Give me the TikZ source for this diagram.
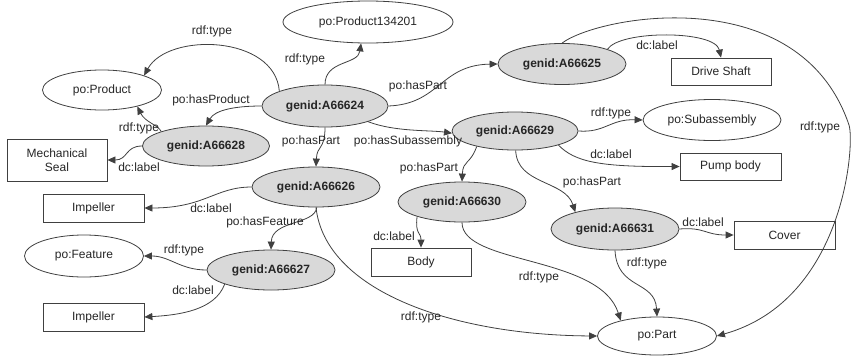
\documentclass[tikz,border=0pt]{standalone}
\usepackage{fontspec}
\setmainfont{Liberation Sans}
\usetikzlibrary{shapes.geometric,arrows.meta}
\begin{document}
\begin{tikzpicture}[x=1pt,y=-1pt,
  font=\fontsize{12}{14}\selectfont,
  res/.style={ellipse,draw=black!75,line width=0.8pt,fill=black!15,inner sep=0pt,text=black!85,font=\fontsize{12}{14}\selectfont\bfseries},
  cls/.style={ellipse,draw=black!75,line width=0.8pt,fill=white,inner sep=0pt,text=black!85},
  lit/.style={rectangle,draw=black!75,line width=0.8pt,fill=white,inner sep=0pt,text=black!85,align=center},
  conn/.style={draw=black!75,line width=0.8pt,-{Triangle[length=8pt,width=7pt]}},
  lab/.style={inner sep=0pt,text=black!85}]
\useasboundingbox (0,0) rectangle (851,356);

% ellipses
\node[cls,minimum width=170pt,minimum height=42pt] (p134201) at (368,22) {po:Product134201};
\node[cls,minimum width=119pt,minimum height=40pt] (product) at (102,90) {po:Product};
\node[res,minimum width=126pt,minimum height=42pt] (a624) at (325,106) {genid:A66624};
\node[res,minimum width=127pt,minimum height=40pt] (a628) at (206,146) {genid:A66628};
\node[res,minimum width=128pt,minimum height=41pt] (a625) at (562,64) {genid:A66625};
\node[res,minimum width=126pt,minimum height=38pt] (a629) at (515,131) {genid:A66629};
\node[cls,minimum width=138pt,minimum height=41pt] (subasm) at (712,120) {po:Subassembly};
\node[res,minimum width=128pt,minimum height=40pt] (a626) at (316,187) {genid:A66626};
\node[res,minimum width=128pt,minimum height=40pt] (a630) at (462,202) {genid:A66630};
\node[res,minimum width=128pt,minimum height=42pt] (a631) at (615,229) {genid:A66631};
\node[cls,minimum width=119pt,minimum height=42pt] (feature) at (84,256) {po:Feature};
\node[res,minimum width=128pt,minimum height=40pt] (a627) at (271,270) {genid:A66627};
\node[cls,minimum width=119pt,minimum height=38pt] (part) at (657,336) {po:Part};

% boxes
\node[lit,minimum width=100pt,minimum height=42pt] (mseal) at (57,160) {Mechanical\\Seal};
\node[lit,minimum width=100pt,minimum height=27pt] (drive) at (721,71.5) {Drive Shaft};
\node[lit,minimum width=101pt,minimum height=27pt] (pump) at (730.5,166.5) {Pump body};
\node[lit,minimum width=101pt,minimum height=28pt] (imp1) at (93.5,208) {Impeller};
\node[lit,minimum width=100pt,minimum height=28pt] (body) at (421,262) {Body};
\node[lit,minimum width=101pt,minimum height=28pt] (cover) at (784.5,235) {Cover};
\node[lit,minimum width=101pt,minimum height=28pt] (imp2) at (93.5,317) {Impeller};

% connectors
\draw[conn] (a624.162) .. controls (275,35) and (168,32) .. (product.19);
\draw[conn] (a624.90) .. controls (325,60) and (358,65) .. (p134201.252);
\draw[conn] (a624.180) .. controls (235,106) and (215,110) .. (a628.90);
\draw[conn] (a624.0) .. controls (440,104) and (440,65) .. (a625.180);
\draw[conn] (a624.-20) .. controls (395,132) and (430,130) .. (a629.182);
\draw[conn] (a624.270) .. controls (325,150) and (317,145) .. (a626.90);
\draw[conn] (a628.162) .. controls (158,125) and (145,122) .. (product.335);
\draw[conn] (a628.180) .. controls (125,146) and (128,160) .. (mseal.east);
\draw[conn] (a625.18) .. controls (620,30) and (715,30) .. (drive.north);
\draw[conn] (a625.90) .. controls (600,15) and (800,-20) .. (849,125) .. controls (855,143) and (845,300) .. (part.0);
\draw[conn] (a629.0) .. controls (605,133) and (610,119) .. (subasm.180);
\draw[conn] (a629.-18) .. controls (575,162) and (600,167) .. (pump.west);
\draw[conn] (a629.202) .. controls (470,165) and (463,160) .. (a630.90);
\draw[conn] (a629.272) .. controls (517,185) and (565,180) .. (a631.157);
\draw[conn] (a626.180) .. controls (215,187) and (205,208) .. (imp1.east);
\draw[conn] (a626.272) .. controls (315,225) and (272,220) .. (a627.90);
\draw[conn] (a626.270) .. controls (325,290) and (450,335) .. (part.180);
\draw[conn] (a627.180) .. controls (180,270) and (170,256) .. (feature.0);
\draw[conn] (a627.197) .. controls (215,310) and (180,315) .. (imp2.east);
\draw[conn] (a630.198) .. controls (415,235) and (421,232) .. (body.north);
\draw[conn] (a630.270) .. controls (462,265) and (600,255) .. (part.157);
\draw[conn] (a631.270) .. controls (617,290) and (655,280) .. (part.90);
\draw[conn] (a631.0) .. controls (705,227) and (705,235) .. (cover.west);

% labels
\node[lab] (l1) at (212,31) {rdf:type};
\node[lab] (l2) at (305,59) {rdf:type};
\node[lab] (l3) at (211,100) {po:hasProduct};
\node[lab] (l4) at (418,86) {po:hasPart};
\node[lab] (l5) at (408,141) {po:hasSubassembly};
\node[lab] (l6) at (311,141) {po:hasPart};
\node[lab] (l7) at (139,128) {rdf:type};
\node[lab] (l8) at (139,167) {dc:label};
\node[lab] (l9) at (657,45) {dc:label};
\node[lab] (l10) at (820,127) {rdf:type};
\node[lab] (l11) at (611,113) {rdf:type};
\node[lab] (l12) at (611,154) {dc:label};
\node[lab] (l13) at (429,168) {po:hasPart};
\node[lab] (l14) at (592,182) {po:hasPart};
\node[lab] (l15) at (211,208) {dc:label};
\node[lab] (l16) at (265,222) {po:hasFeature};
\node[lab] (l17) at (421,317) {rdf:type};
\node[lab] (l18) at (184,250) {rdf:type};
\node[lab] (l19) at (193,290) {dc:label};
\node[lab] (l20) at (394,236) {dc:label};
\node[lab] (l21) at (539,277) {rdf:type};
\node[lab] (l22) at (647,263) {rdf:type};
\node[lab] (l23) at (703,222) {dc:label};
\end{tikzpicture}
\end{document}
